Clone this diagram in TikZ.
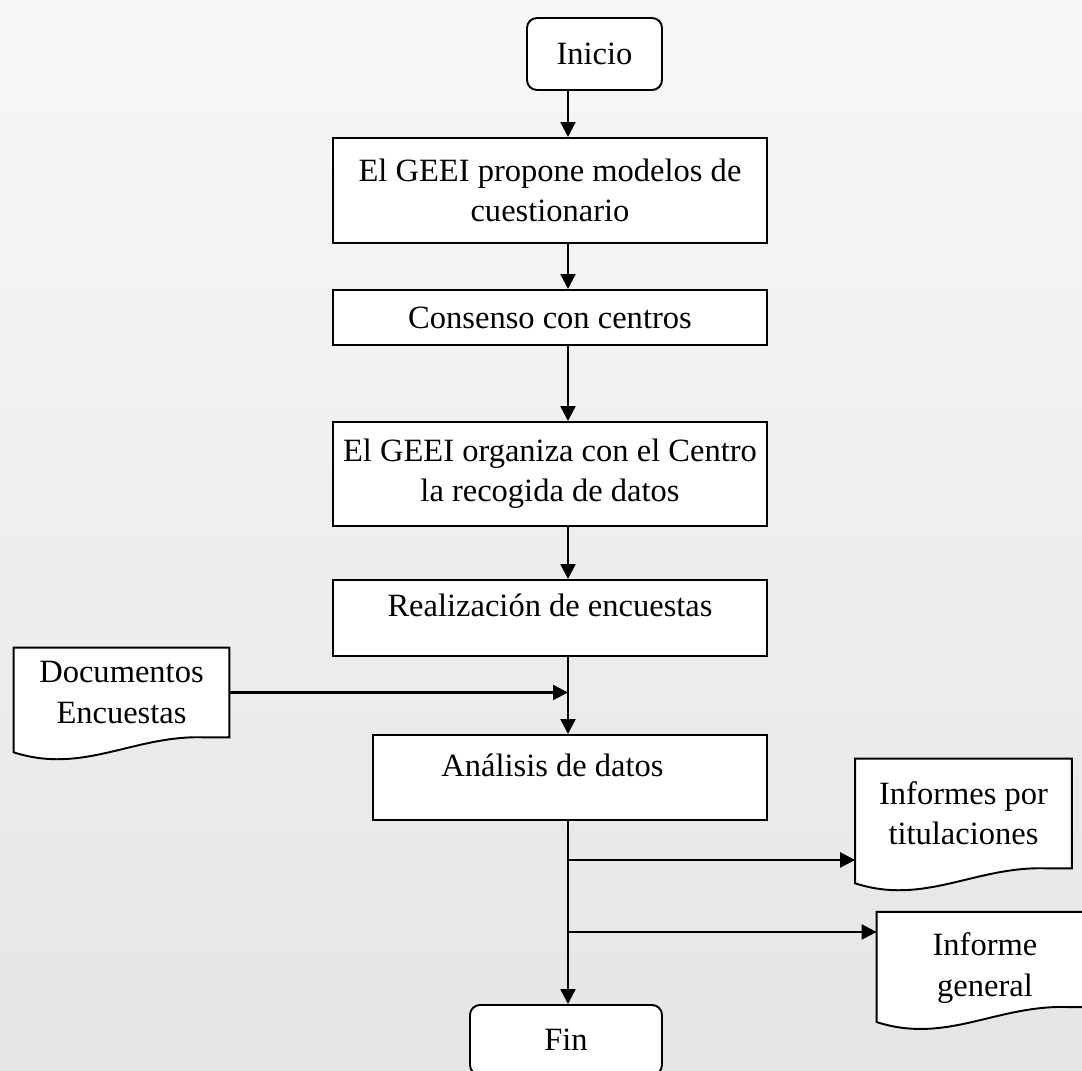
\documentclass[tikz,border=0pt]{standalone}
\usepackage{fontspec}
\setmainfont{Liberation Serif}
\usetikzlibrary{arrows.meta}
\pgfdeclarelayer{paper}
\pgfdeclarelayer{back}
\pgfsetlayers{paper,back,main}

\begin{document}
\begin{tikzpicture}[
    font=\fontsize{18.5}{23}\selectfont,
    paso/.style={draw,line width=1.1pt,fill=white,align=center,minimum width=8.68cm,inner sep=2pt},
    term/.style={draw,line width=1.1pt,fill=white,rounded corners=0.2cm,minimum height=1.44cm},
    docu/.style={align=center,minimum width=4.3cm,inner sep=2pt},
    flecha/.style={line width=1.3pt,-{Triangle[length=0.3cm,width=0.3cm]}},
    linea/.style={line width=1.3pt}]

        \useasboundingbox (0,0) rectangle (21.64,21.42);
        \begin{pgfonlayer}{paper}
            \shade[top color=black!3,middle color=black!13,bottom color=black!10] (0,0) rectangle (21.64,21.42);
        \end{pgfonlayer}

        % proceso principal
        \node[term,minimum width=2.7cm] (ini) at (11.89,20.34) {Inicio};
        \node[paso,minimum height=2.1cm] (prop) at (11.0,17.61) {El GEEI propone modelos de\\cuestionario};
        \node[paso,minimum height=1.1cm] (cons) at (11.0,15.07) {Consenso con centros};
        \node[paso,minimum height=2.08cm] (orga) at (11.0,11.94) {El GEEI organiza con el Centro\\la recogida de datos};
        \node[paso,minimum height=1.52cm,text depth=0.5cm] (encu) at (11.0,9.06) {Realización de encuestas};
        \node[paso,minimum height=1.7cm,minimum width=7.88cm,text depth=0.5cm] (anal) at (11.4,5.87) {Análisis de datos\hspace*{0.7cm}};
        \node[term,minimum width=3.84cm,minimum height=1.4cm] (fin) at (11.32,0.62) {Fin};

        % documentos
        \node[docu,minimum height=1.78cm] (docs) at (2.43,7.57) {Documentos\\Encuestas};
        \node[docu,minimum height=2.18cm,minimum width=4.32cm] (infa) at (19.27,5.15) {Informes por\\titulaciones};
        \node[docu,minimum height=1.82cm,minimum width=4.32cm] (infb) at (19.7,2.23) {\rule{0pt}{0.8cm}Informe\\general};

        \begin{pgfonlayer}{back}
        \foreach \d in {docs,infa,infb}
            \draw[line width=1.1pt,fill=white] (\d.north west) -- (\d.north east) -- (\d.south east)
                -- ([xshift=-0.5cm]\d.south east)
                .. controls ([shift={(2.4cm,0.05cm)}]\d.south west) and ([shift={(1.4cm,-0.75cm)}]\d.south west)
                .. ([yshift=-0.3cm]\d.south west) -- cycle;
        \end{pgfonlayer}

        % conectores
        \coordinate (eje) at (11.36,0);
        \coordinate (ra) at (11.36,4.22);
        \coordinate (rb) at (11.36,2.78);
        \draw[flecha] (ini.south -| eje) -- (prop.north -| eje);
        \draw[flecha] (prop.south -| eje) -- (cons.north -| eje);
        \draw[flecha] (cons.south -| eje) -- (orga.north -| eje);
        \draw[flecha] (orga.south -| eje) -- (encu.north -| eje);
        \draw[flecha] (encu.south -| eje) -- (anal.north -| eje);
        \draw[flecha] (docs.east) -- (docs.east -| eje);
        \draw[flecha] (anal.south -| eje) -- (fin.north -| eje);
        \draw[flecha] (ra) -- (ra -| infa.west);
        \draw[flecha] (rb) -- (rb -| infb.west);

      \end{tikzpicture}
\end{document}
